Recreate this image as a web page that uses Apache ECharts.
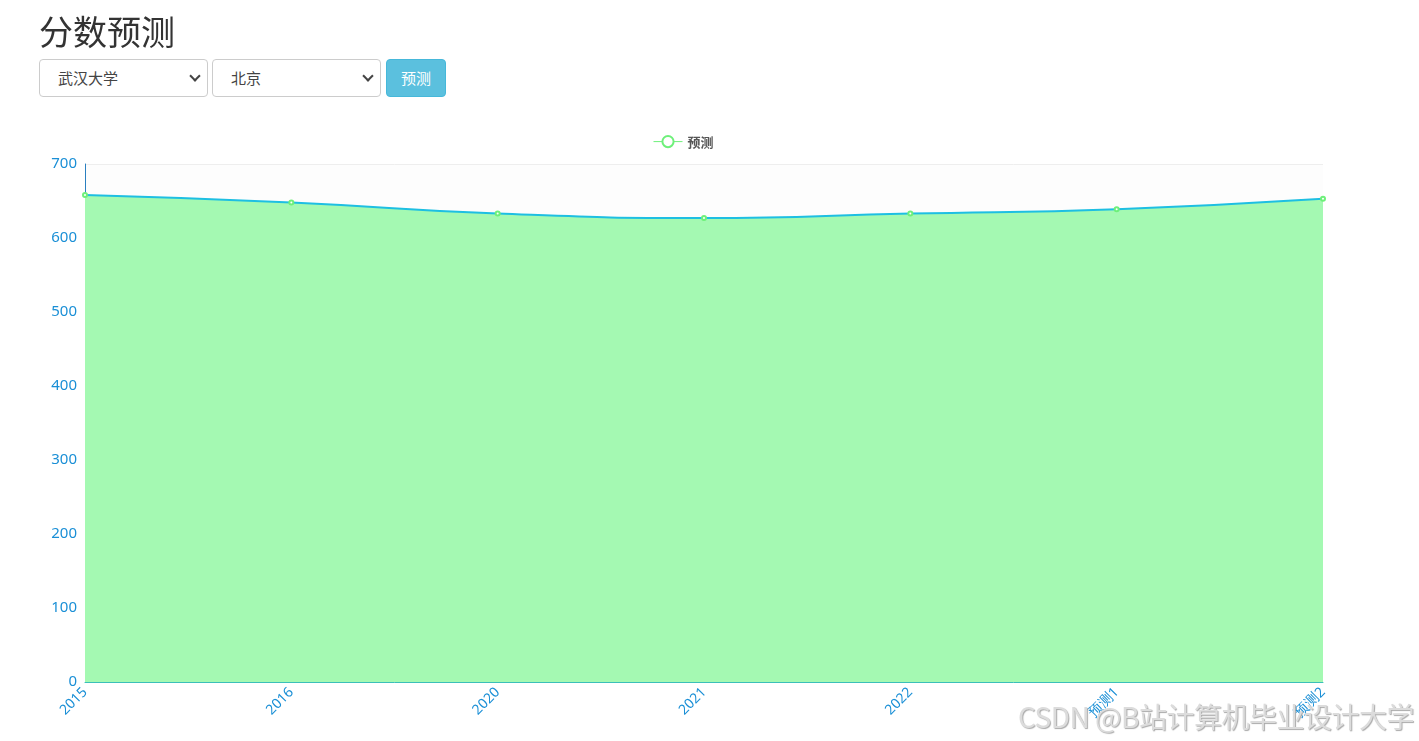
<!DOCTYPE html>
<html><head><meta charset="utf-8">
<script src="https://cdn.jsdelivr.net/npm/echarts@6/dist/echarts.min.js"></script>
<style>
body{margin:0;background:#fff;font-family:"Noto Sans CJK SC","Noto Sans",sans-serif;width:1419px;height:741px;overflow:hidden;position:relative}
h1{position:absolute;left:39px;top:6px;margin:0;font-size:34px;font-weight:400;color:#333;z-index:2}
.sel{position:absolute;top:59px;height:38px;border:1px solid #ccc;border-radius:4px;background:#fff;box-sizing:border-box;font-size:15px;color:#444;z-index:2}
.sel span{position:absolute;top:7px}
.sel i{position:absolute;right:8px;width:6px;height:6px;border-right:2px solid #444;border-bottom:2px solid #444;transform:rotate(45deg);top:12px}
.btn{position:absolute;left:386px;top:59px;width:60px;height:38px;background:#5bc0de;border:1px solid #46b8da;border-radius:4px;box-sizing:border-box;color:#fff;font-size:15px;text-align:center;line-height:35px;z-index:2}
#chart{position:absolute;left:0;top:0;width:1419px;height:741px;z-index:1}
.wm{position:absolute;left:1018px;top:696px;font-size:28px;color:#dcdcdc;text-shadow:1px 1px 1px #aaa;z-index:3;white-space:nowrap;letter-spacing:-0.5px}
</style></head><body>
<h1>分数预测</h1>
<div class="sel" style="left:39px;width:169px"><span style="left:18px">武汉大学</span><i></i></div>
<div class="sel" style="left:212px;width:169px"><span style="left:18px">北京</span><i></i></div>
<div class="btn">预测</div>
<div id="chart"></div>
<div class="wm">CSDN @B站计算机毕业设计大学</div>
<script>
const categories = ['2015','2016','2020','2021','2022','预测1','预测2'];
const scores = [658, 648, 633, 627, 633, 639, 653];
const seriesName = '预测';

const chart = echarts.init(document.getElementById('chart'));
chart.setOption({
  animation:false,
  legend:{
    data:[seriesName],
    left:648, top:130, itemWidth:29, itemHeight:14, itemGap:10,
    lineStyle:{color:'#6ef07a',width:1},
    textStyle:{color:'#555',fontSize:13,fontWeight:'bold',fontFamily:'Noto Sans CJK SC'}
  },
  grid:{left:85,right:96,top:164,bottom:59},
  xAxis:{
    type:'category', boundaryGap:false, data:categories,
    axisLine:{lineStyle:{color:'#3bbfb9',width:1}},
    axisTick:{show:false},
    axisLabel:{rotate:45,color:'#1a8fd6',fontSize:14,margin:8,interval:0,fontFamily:'Noto Sans'}
  },
  yAxis:{
    type:'value', min:0, max:700, interval:100,
    axisLine:{show:true,lineStyle:{color:'#2a7fc0'}},
    axisTick:{show:false},
    axisLabel:{color:'#1a8fd6',fontSize:15,margin:8,fontFamily:'Noto Sans'},
    splitLine:{lineStyle:{color:'#eeeeee'}},
    splitArea:{show:true,areaStyle:{color:['rgba(250,250,250,0.3)','rgba(230,230,230,0.12)']}}
  },
  series:[{
    name:seriesName, type:'line', smooth:true, data:scores,
    symbol:'emptyCircle', symbolSize:4,
    itemStyle:{color:'#6ef07a',borderColor:'#6ef07a'},
    lineStyle:{color:'#1ebfe2',width:2},
    areaStyle:{color:'#a4f9b2',opacity:1}
  }]
});
</script>
</body></html>
